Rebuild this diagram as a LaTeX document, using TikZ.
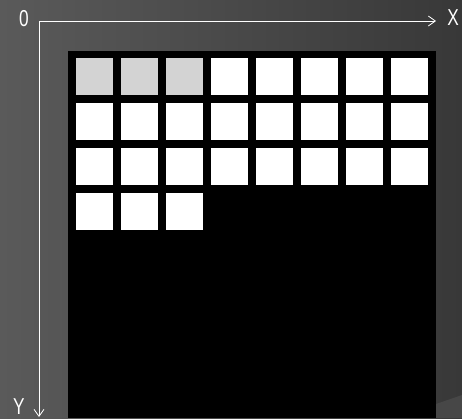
\documentclass[tikz,border=0pt]{standalone}
\usepackage{fontspec}
\setmainfont{Liberation Sans}
\usetikzlibrary{arrows.meta}
\definecolor{bgl}{HTML}{5A5A5A}
\definecolor{bgr}{HTML}{383838}
\definecolor{cellgray}{HTML}{D3D3D3}
\tikzset{
  axis/.style={white, line width=1pt, -{Straight Barb[length=7pt,width=10pt,line width=0.8pt]}},
  cell/.style={fill=white, draw=none, minimum width=37pt, minimum height=37pt, inner sep=0pt, outer sep=0pt},
  grcell/.style={cell, fill=cellgray},
  lbl/.style={text=white, inner sep=0pt, font=\fontsize{23}{23}\selectfont}
}
\begin{document}
\begin{tikzpicture}[x=1pt,y=-1pt]
\useasboundingbox (0,0) rectangle (462,418);
\shade[left color=bgl, right color=bgr] (0,0) rectangle (462,418);
\fill[color=black!72] (436,404) -- (462,395) -- (462,418) -- (436,418) -- cycle;
\fill[black] (68,51) rectangle (436,418);
\foreach \r in {0,1,2}{
  \foreach \c in {0,...,7}{
    \node[cell] (s-\r-\c) at ({94.5+45*\c},{76.5+45*\r}) {};
  }
}
\foreach \c in {0,1,2}{
  \node[cell] (s-3-\c) at ({94.5+45*\c},{211.5}) {};
  \node[grcell] (s-0-\c) at ({94.5+45*\c},{76.5}) {};
}
\coordinate (o) at (39,21);
\coordinate (xe) at (436,21);
\coordinate (ye) at (39,417);
\draw[axis] (o) -- (xe);
\draw[axis] (o) -- (ye);
\node[lbl, xscale=0.75] (zero) at (24,19) {0};
\node[lbl, xscale=0.75] (xl) at (453,18) {X};
\node[lbl, xscale=0.75] (yl) at (19,407) {Y};
\end{tikzpicture}
\end{document}
